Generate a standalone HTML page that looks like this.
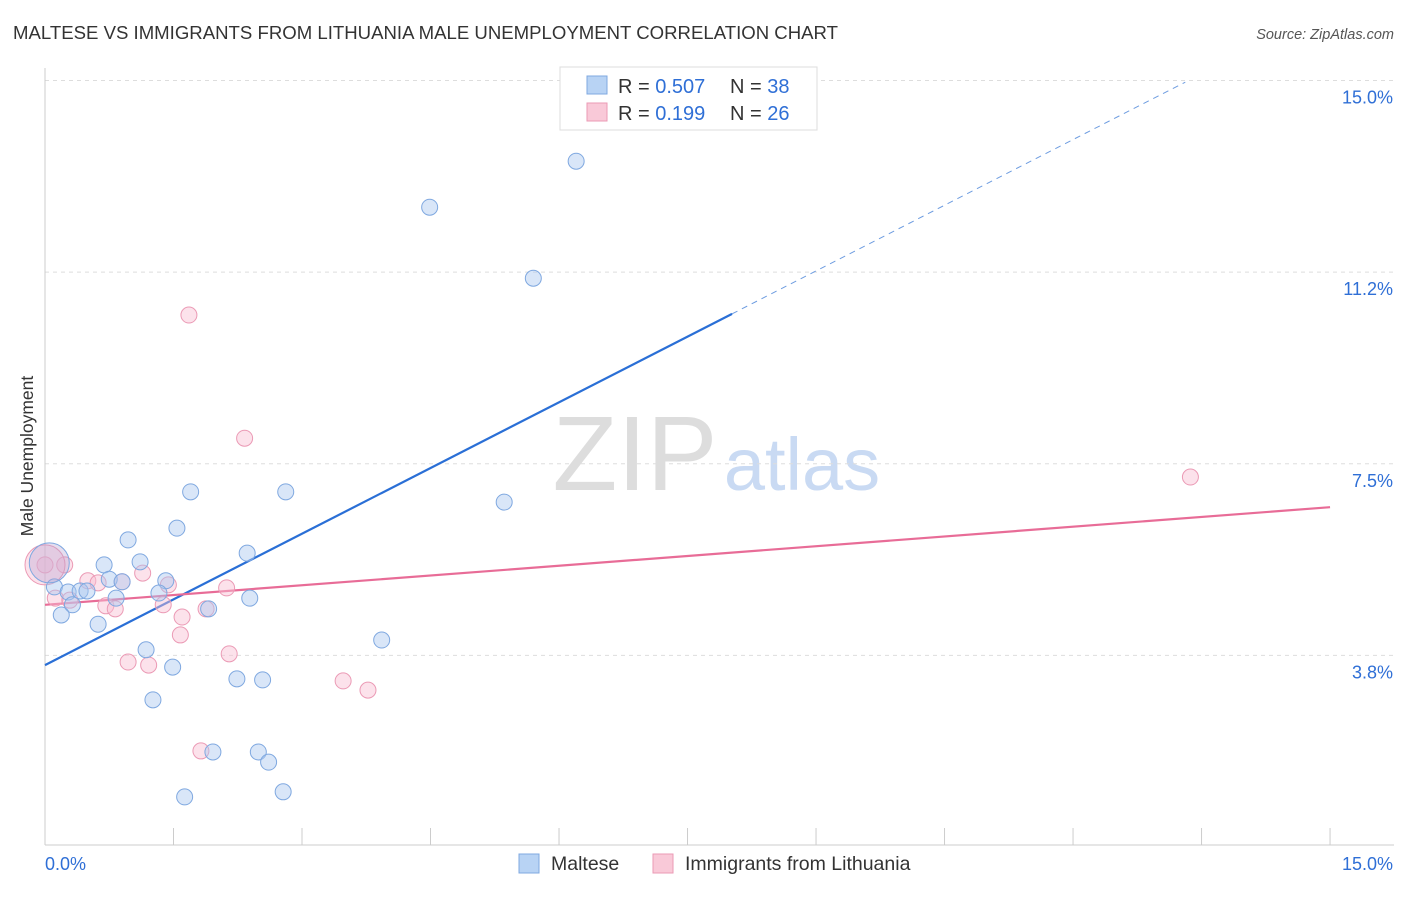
<!DOCTYPE html>
<html><head><meta charset="utf-8"><style>
body{margin:0;background:#fff;font-family:"Liberation Sans",sans-serif;}
svg text{font-family:"Liberation Sans",sans-serif;}
</style></head><body>
<svg id="c" width="1406" height="892" xmlns="http://www.w3.org/2000/svg">
<text x="13" y="39" font-size="18" fill="#333" textLength="825" lengthAdjust="spacingAndGlyphs">MALTESE VS IMMIGRANTS FROM LITHUANIA MALE UNEMPLOYMENT CORRELATION CHART</text>
<text x="1394" y="39" font-size="14.5" fill="#555" font-style="italic" text-anchor="end">Source: ZipAtlas.com</text>
<text x="635" y="490" font-size="106" fill="#ddd" font-family="Liberation Serif,serif" text-anchor="middle">ZIP</text>
<text x="802" y="490" font-size="74" fill="#c9daf3" text-anchor="middle">atlas</text>
<text transform="translate(33,456) rotate(-90)" font-size="17.5" fill="#333" text-anchor="middle">Male Unemployment</text>
<g id="grid"></g><g id="lines"></g><g id="pts"></g>
<g>
<rect x="560" y="67" width="257" height="63" fill="#fff" stroke="#ddd"/>
<rect x="587" y="76" width="20" height="18" fill="#b8d3f4" stroke="#7fa8e0"/>
<rect x="587" y="103" width="20" height="18" fill="#f9c9d8" stroke="#eb9ab5"/>
<text x="618" y="93" font-size="20" fill="#333">R = <tspan fill="#2f6fd6">0.507</tspan></text>
<text x="730" y="93" font-size="20" fill="#333">N = <tspan fill="#2f6fd6">38</tspan></text>
<text x="618" y="120" font-size="20" fill="#333">R = <tspan fill="#2f6fd6"> 0.199</tspan></text>
<text x="730" y="120" font-size="20" fill="#333">N = <tspan fill="#2f6fd6">26</tspan></text>
</g>
<g>
<rect x="519" y="854" width="20" height="19" fill="#b8d3f4" stroke="#7fa8e0"/>
<text x="551" y="870" font-size="19.5" fill="#333">Maltese</text>
<rect x="653" y="854" width="20" height="19" fill="#f9c9d8" stroke="#eb9ab5"/>
<text x="685" y="870" font-size="19.5" fill="#333">Immigrants from Lithuania</text>
</g>
</svg>
<script>
const blueX=[6.20,4.49,5.70,5.36,2.81,1.70,1.54,0.97,1.11,0.69,2.36,0.75,0.90,1.41,0.11,0.27,0.41,0.49,0.83,1.33,2.39,0.32,1.91,0.19,0.62,3.93,1.18,1.49,2.24,2.54,1.26,1.96,2.49,2.61,1.63,2.78,0.05,0.0];
const blueY=[13.42,12.52,11.13,6.75,6.95,6.95,6.24,6.01,5.58,5.52,5.75,5.24,5.19,5.21,5.09,4.99,5.01,5.01,4.87,4.97,4.87,4.74,4.66,4.54,4.36,4.05,3.86,3.52,3.29,3.27,2.88,1.86,1.86,1.66,0.98,1.08,5.56,5.56];
const pinkX=[1.68,2.33,13.37,0.23,1.14,0.50,0.62,0.90,1.44,2.12,0.12,0.71,0.82,1.38,1.88,1.60,1.58,2.15,0.97,1.21,3.48,3.77,1.82,0.29,0.0,0.0];
const pinkY=[10.41,8.00,7.24,5.52,5.36,5.21,5.17,5.19,5.13,5.07,4.87,4.72,4.66,4.74,4.66,4.50,4.15,3.78,3.62,3.56,3.25,3.07,1.88,4.83,5.52,5.52];
const yTicks=[3.75,7.5,11.25,15];
const yTickLabels=["3.8%","7.5%","11.2%","15.0%"];
const blueLine=[3.56,0.857,8.02,13.31];
const pinkLine=[4.74,6.65];
const X=v=>45+v*85.67, Y=v=>847-v*51.1;
const NS="http://www.w3.org/2000/svg";
function mk(p,t,a){const e=document.createElementNS(NS,t);for(const k in a)e.setAttribute(k,a[k]);p.appendChild(e);return e;}
const g=document.getElementById('grid');
yTicks.forEach((t,i)=>{
 const l=mk(g,'line',{x1:45,x2:1394,y1:Y(t),y2:Y(t),stroke:'#ddd','stroke-dasharray':'4,4'});
 
 
 const tx=mk(g,'text',{x:1393,y:Y(t)+23,'font-size':18,fill:'#2f6fd6','text-anchor':'end'});tx.textContent=yTickLabels[i];
 
 
});
mk(g,'line',{x1:45,x2:45,y1:68,y2:845,stroke:'#ccc'});
mk(g,'line',{x1:45,x2:1394,y1:845,y2:845,stroke:'#ccc'});
for(let i=0;i<=10;i++){const t=mk(g,'line',{x1:X(i*1.5),x2:X(i*1.5),y1:828,y2:845,stroke:'#ccc'});
 
 }
const x0=mk(g,'text',{x:45,y:870,'font-size':18,fill:'#2f6fd6'});x0.textContent='0.0%';


const x1=mk(g,'text',{x:1393,y:870,'font-size':18,fill:'#2f6fd6','text-anchor':'end'});x1.textContent='15.0%';


const P=document.getElementById('pts');
pinkX.forEach((x,i)=>{const big=i>=pinkX.length-1;
 const c=mk(P,'circle',{cx:X(x),cy:Y(pinkY[i]),r:big?20:8,fill:'rgba(249,190,210,0.45)',stroke:'#eb9ab5','stroke-width':1});
 
 });
blueX.forEach((x,i)=>{const big=i>=blueX.length-2;
 const c=mk(P,'circle',{cx:X(x),cy:Y(blueY[i]),r:big?(i==blueX.length-1?0:20):8,fill:big?'rgba(180,160,210,0.35)':'rgba(170,200,240,0.45)',stroke:'#7fa8e0','stroke-width':1});
 
 });
const L=document.getElementById('lines');
const b1=mk(L,'line',{x1:X(0),y1:Y(blueLine[0]),x2:X(blueLine[2]),y2:Y(blueLine[0]+blueLine[1]*blueLine[2]),stroke:'#2a6fd6','stroke-width':2.2});


const b2=mk(L,'line',{x1:X(blueLine[2]),y1:Y(blueLine[0]+blueLine[1]*blueLine[2]),x2:X(blueLine[3]),y2:Y(blueLine[0]+blueLine[1]*blueLine[3]),stroke:'#6d9ce0','stroke-width':1,'stroke-dasharray':'6,5'});


const p1=mk(L,'line',{x1:X(0),y1:Y(pinkLine[0]),x2:X(15),y2:Y(pinkLine[1]),stroke:'#e86c97','stroke-width':2.2});


</script>
</body></html>
